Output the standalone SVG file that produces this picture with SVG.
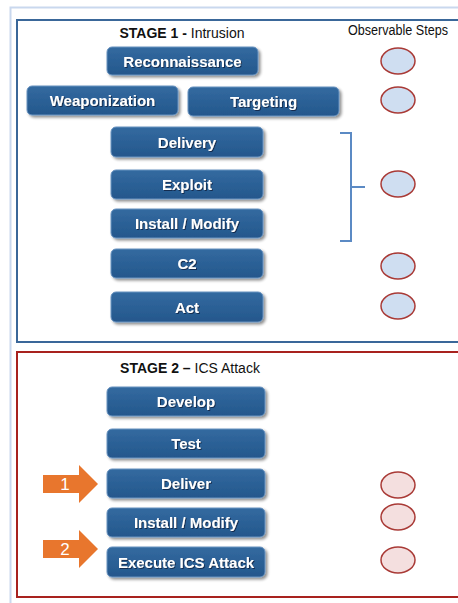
<svg xmlns="http://www.w3.org/2000/svg" width="458" height="603" viewBox="0 0 458 603">
  <defs>
    <linearGradient id="btnGrad" x1="0" y1="0" x2="0" y2="1">
      <stop offset="0" stop-color="#336aa0"/>
      <stop offset="1" stop-color="#24578c"/>
    </linearGradient>
    <filter id="shadow" x="-10%" y="-20%" width="125%" height="160%">
      <feGaussianBlur in="SourceAlpha" stdDeviation="1.5"/>
      <feOffset dx="2" dy="2" result="b"/>
      <feComponentTransfer><feFuncA type="linear" slope="0.45"/></feComponentTransfer>
      <feMerge><feMergeNode/><feMergeNode in="SourceGraphic"/></feMerge>
    </filter>
    <filter id="tshadow" x="-10%" y="-30%" width="120%" height="160%">
      <feDropShadow dx="1" dy="1" stdDeviation="0.6" flood-color="#0c2340" flood-opacity="0.8"/>
    </filter>
  </defs>
  <style>
    .btn rect { fill: url(#btnGrad); stroke: #6a93c0; stroke-width: 1; filter: url(#shadow); }
    .btn text { font-family: "Liberation Sans", Arial, sans-serif; font-weight: bold; font-size: 15px; fill: #ffffff; text-anchor: middle; filter: url(#tshadow); }
    .obs1 { fill: #cfdef1; stroke: #a93a36; stroke-width: 1.5; }
    .obs2 { fill: #f4dfdf; stroke: #a93a36; stroke-width: 1.5; }
    .title { font-family: "Liberation Sans", Arial, sans-serif; font-size: 14px; fill: #111111; }
    .arrow path { fill: #e8762d; }
    .arrow text { font-family: "Liberation Sans", Arial, sans-serif; font-size: 17px; fill: #ffffff; text-anchor: middle; }
  </style>
  <rect width="458" height="603" fill="#ffffff"/>
  <!-- outer light frame -->
  <path d="M10.5 603 V7.5 H458" fill="none" stroke="#c9d8ee" stroke-width="2"/>

  <!-- Stage 1 -->
  <g id="stage1">
    <rect x="17" y="20" width="445" height="322" fill="none" stroke="#3a6799" stroke-width="2"/>
    <text class="title" x="182" y="38" text-anchor="middle"><tspan font-weight="bold">STAGE 1 - </tspan>Intrusion</text>
    <text class="title" x="398" y="35" text-anchor="middle" font-size="12" textLength="100" lengthAdjust="spacingAndGlyphs">Observable Steps</text>
  </g>
  <g id="reconnaissance" class="btn"><rect x="107" y="47" width="151" height="28" rx="5"/><text x="182.5" y="66.5">Reconnaissance</text></g>
  <g id="weaponization" class="btn"><rect x="27" y="86" width="151" height="29" rx="5"/><text x="102.5" y="106">Weaponization</text></g>
  <g id="targeting" class="btn"><rect x="188" y="87" width="151" height="29" rx="5"/><text x="263.5" y="107">Targeting</text></g>
  <g id="delivery" class="btn"><rect x="111" y="127" width="152" height="30" rx="5"/><text x="187" y="147.5">Delivery</text></g>
  <g id="exploit" class="btn"><rect x="111" y="170" width="152" height="29" rx="5"/><text x="187" y="190">Exploit</text></g>
  <g id="install1" class="btn"><rect x="111" y="209" width="152" height="29" rx="5"/><text x="187" y="229">Install / Modify</text></g>
  <g id="c2" class="btn"><rect x="111" y="249" width="152" height="29" rx="5"/><text x="187" y="269">C2</text></g>
  <g id="act" class="btn"><rect x="111" y="292" width="152" height="30" rx="5"/><text x="187" y="312.5">Act</text></g>

  <g id="obs-recon"><ellipse class="obs1" cx="398" cy="61" rx="17" ry="13"/></g>
  <g id="obs-weapon"><ellipse class="obs1" cx="398" cy="100" rx="17" ry="13"/></g>
  <g id="obs-delivery"><ellipse class="obs1" cx="398" cy="184" rx="17" ry="13"/></g>
  <g id="obs-c2"><ellipse class="obs1" cx="398" cy="266" rx="17" ry="13"/></g>
  <g id="obs-act"><ellipse class="obs1" cx="398" cy="306" rx="17" ry="13"/></g>

  <g id="connectors">
    <path d="M340 133 H351 V241 H340 M351 187 H365" fill="none" stroke="#5b8ac4" stroke-width="2"/>
  </g>

  <!-- Stage 2 -->
  <g id="stage2">
    <rect x="17" y="352" width="445" height="245" fill="none" stroke="#a8221e" stroke-width="2"/>
    <text class="title" x="190" y="373" text-anchor="middle"><tspan font-weight="bold">STAGE 2 – </tspan>ICS Attack</text>
  </g>
  <g id="develop" class="btn"><rect x="107" y="387" width="158" height="29" rx="5"/><text x="186" y="407">Develop</text></g>
  <g id="test" class="btn"><rect x="107" y="429" width="158" height="29" rx="5"/><text x="186" y="449">Test</text></g>
  <g id="deliver" class="btn"><rect x="107" y="469" width="158" height="29" rx="5"/><text x="186" y="489">Deliver</text></g>
  <g id="install2" class="btn"><rect x="107" y="508" width="158" height="29" rx="5"/><text x="186" y="528">Install / Modify</text></g>
  <g id="execute" class="btn"><rect x="107" y="547" width="158" height="30" rx="5"/><text x="186" y="567.5">Execute ICS Attack</text></g>

  <g id="obs-deliver"><ellipse class="obs2" cx="398" cy="485" rx="17" ry="13"/></g>
  <g id="obs-install"><ellipse class="obs2" cx="398" cy="517" rx="17" ry="13"/></g>
  <g id="obs-execute"><ellipse class="obs2" cx="398" cy="560" rx="17" ry="13"/></g>

  <g id="arrow1" class="arrow">
    <path d="M43 475 H79 V465 L98 484 L79 503 V493 H43 Z"/>
    <text x="65" y="490">1</text>
  </g>
  <g id="arrow2" class="arrow">
    <path d="M43 540 H79 V530 L98 549 L79 568 V558 H43 Z"/>
    <text x="65" y="555">2</text>
  </g>
</svg>
